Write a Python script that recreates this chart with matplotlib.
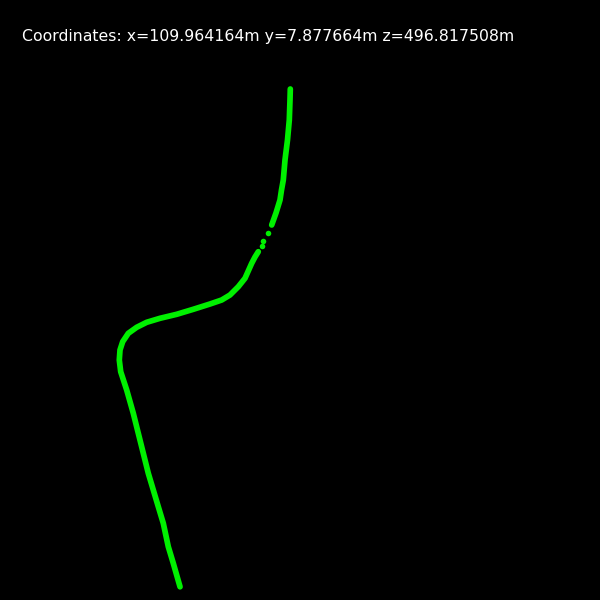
import matplotlib
matplotlib.use("Agg")
import matplotlib.pyplot as plt

# Trajectory in metres (x lateral, z forward); drawn 1 px per metre
# continuous part from the start
x_a = [-0.3, 0.0, 0.7, 2.5, 5.0, 6.7, 8.5, 10.0, 14.0, 18.3]
z_a = [-1.0, 10.0, 30.0, 50.0, 70.0, 90.0, 100.0, 110.0, 123.0, 135.0]
# sparse samples
x_b = [21.7, 26.7, 28.3]
z_b = [143.3, 151.0, 155.7]
# continuous part to the end
x_c = [31.7, 35.0, 38.3, 45.0, 51.7, 60.0, 68.3, 80.0, 96.7, 113.3, 130.0, 143.3,
       153.3, 161.7, 167.3, 170.0, 170.7, 169.3, 163.3, 156.7, 151.7, 146.7,
       141.7, 136.7, 131.7, 126.7, 121.7, 116.7, 109.96]
z_c = [161.7, 167.0, 173.3, 188.3, 196.7, 205.0, 210.0, 214.0, 219.3, 224.3, 228.3,
       232.3, 237.3, 243.3, 251.7, 260.0, 270.0, 281.7, 300.0, 323.3, 343.3,
       363.3, 383.3, 400.0, 416.7, 433.3, 456.7, 473.3, 496.82]

label = "Coordinates: x=109.964164m y=7.877664m z=496.817508m"

green = "#00f000"

fig = plt.figure(figsize=(6, 6), dpi=100, facecolor="black")
ax = fig.add_axes([0, 0, 1, 1])
ax.set_facecolor("black")
ax.set_xlim(290, -310)
ax.set_ylim(510, -90)
ax.axis("off")

ax.plot(x_a, z_a, color=green, lw=4.1, solid_capstyle="round", solid_joinstyle="round")
ax.plot(x_b, z_b, "o", color=green, ms=4.0, mew=0)
ax.plot(x_c, z_c, color=green, lw=4.1, solid_capstyle="round", solid_joinstyle="round")

fig.text(22 / 600, 1 - 41 / 600, label, color="white", fontsize=11.3,
         family="DejaVu Sans", ha="left", va="baseline")

fig.savefig("out.png", dpi=100, facecolor="black")
